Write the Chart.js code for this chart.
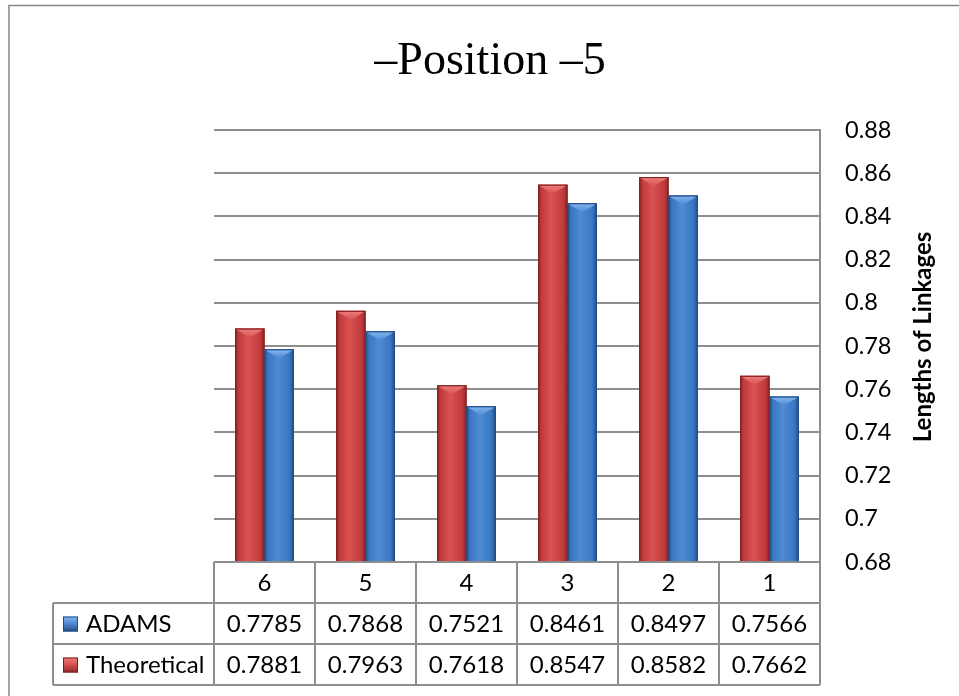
<!DOCTYPE html>
<html>
<head>
<meta charset="utf-8">
<script src="https://cdn.jsdelivr.net/npm/chart.js@4/dist/chart.umd.min.js"></script>
<style>
  html, body { margin: 0; padding: 0; background: #fff; }
  #wrap { width: 959px; height: 696px; position: relative; }
</style>
</head>
<body>
<div id="wrap"><canvas id="c" width="959" height="696"></canvas></div>
<script>
// Link lengths per position (categories run 6 → 1)
const categories = ['6', '5', '4', '3', '2', '1'];
const adams = [0.7785, 0.7868, 0.7521, 0.8461, 0.8497, 0.7566];
const theoretical = [0.7881, 0.7963, 0.7618, 0.8547, 0.8582, 0.7662];
const seriesNames = ['ADAMS', 'Theoretical'];

const chartTitle = '\u2013Position \u20135';
const axisTitle = 'Lengths of Linkages';
const yMin = 0.68, yMax = 0.88, yStep = 0.02;

const LINE = '#8e8e8e';
const FONT = 'Lato, "Open Sans", sans-serif';

const palette = {
  Theoretical: { base: '#c23b3c', dark: '#8f2526', light: '#d95353', bevel: '#ec7f7e', edge: '#7d1f20' },
  ADAMS:       { base: '#3a77c2', dark: '#234f8a', light: '#4f8ad3', bevel: '#86b7ef', edge: '#1f4a82' }
};

// Paint white background, frame and the heading
const framePlugin = {
  id: 'frame',
  beforeDraw(chart) {
    const ctx = chart.ctx;
    ctx.save();
    ctx.fillStyle = '#ffffff';
    ctx.fillRect(0, 0, chart.width, chart.height);
    ctx.strokeStyle = '#878787';
    ctx.lineWidth = 1.5;
    ctx.strokeRect(9, 5.5, chart.width + 20, chart.height + 20);
    ctx.restore();
  },
  afterDraw(chart) {
    const ctx = chart.ctx;
    ctx.save();
    ctx.fillStyle = '#000';
    ctx.font = '46px "Liberation Serif", "Times New Roman", serif';
    ctx.textAlign = 'center';
    ctx.textBaseline = 'alphabetic';
    ctx.fillText(chartTitle, 490, 74);

    // rotated axis title reading bottom-to-top
    ctx.translate(923, 337);
    ctx.rotate(-Math.PI / 2);
    ctx.font = 'bold 24px ' + FONT;
    ctx.textBaseline = 'middle';
    ctx.fillText(axisTitle, 0, 0);
    ctx.restore();
  }
};

// Shading and bevelled tops on every bar element
const bevelPlugin = {
  id: 'bevel',
  afterDatasetsDraw(chart) {
    const ctx = chart.ctx;
    const floor = chart.chartArea.bottom;
    chart.data.datasets.forEach((ds, di) => {
      const col = palette[ds.label];
      chart.getDatasetMeta(di).data.forEach(bar => {
        const p = bar.getProps(['x', 'y', 'width', 'base'], true);
        const x = p.x, y = p.y, width = p.width;
        const base = Math.min(p.base, floor);
        const l = x - width / 2, r = x + width / 2, h = base - y;
        ctx.save();
        // body gradient
        const g = ctx.createLinearGradient(l, 0, r, 0);
        g.addColorStop(0, col.dark);
        g.addColorStop(0.12, col.base);
        g.addColorStop(0.45, col.light);
        g.addColorStop(0.85, col.base);
        g.addColorStop(1, col.dark);
        ctx.fillStyle = g;
        ctx.fillRect(l, y, width, h);
        // bevel top: light wedge pointing down
        const bv = Math.min(9, h / 2);
        const gb = ctx.createLinearGradient(0, y, 0, y + bv);
        gb.addColorStop(0, col.bevel);
        gb.addColorStop(1, col.light);
        ctx.fillStyle = gb;
        ctx.beginPath();
        ctx.moveTo(l + 1, y + 1); ctx.lineTo(r - 1, y + 1); ctx.lineTo(x, y + bv);
        ctx.closePath();
        ctx.fill();
        // outline
        ctx.strokeStyle = col.edge;
        ctx.lineWidth = 1;
        ctx.strokeRect(l + 0.5, y + 0.5, width - 1, h - 1);
        ctx.restore();
      });
    });
  }
};

// Data table under the plot, aligned to the category scale
const tablePlugin = {
  id: 'dataTable',
  afterDraw(chart) {
    const ctx = chart.ctx;
    const xs = chart.scales.x;
    const area = chart.chartArea;
    const step = (area.right - area.left) / categories.length;
    const rowH = 41;
    const top = area.bottom;
    const tableLeft = 53;
    const rows = [
      { name: seriesNames[0], values: adams },
      { name: seriesNames[1], values: theoretical }
    ];
    ctx.save();
    ctx.strokeStyle = LINE;
    ctx.lineWidth = 2;
    ctx.beginPath();
    ctx.moveTo(area.left, top); ctx.lineTo(area.left, top + rowH * 3);
    ctx.moveTo(tableLeft, top + rowH); ctx.lineTo(area.right, top + rowH);
    ctx.moveTo(tableLeft, top + rowH * 2); ctx.lineTo(area.right, top + rowH * 2);
    ctx.moveTo(tableLeft, top + rowH * 3); ctx.lineTo(area.right, top + rowH * 3);
    ctx.moveTo(tableLeft, top + rowH); ctx.lineTo(tableLeft, top + rowH * 3);
    for (let i = 0; i < categories.length; i++) {
      const xr = xs.getPixelForValue(i) + step / 2;
      ctx.moveTo(xr, top); ctx.lineTo(xr, top + rowH * 3);
    }
    ctx.moveTo(area.left, top); ctx.lineTo(area.right, top);
    ctx.stroke();

    ctx.fillStyle = '#000';
    ctx.font = '24px ' + FONT;
    ctx.textBaseline = 'middle';
    ctx.textAlign = 'center';
    categories.forEach((c, i) => {
      ctx.fillText(c, xs.getPixelForValue(i), top + rowH / 2 + 1);
    });
    rows.forEach((row, ri) => {
      const cy = top + rowH * (ri + 1) + rowH / 2 + 1;
      ctx.textAlign = 'center';
      row.values.forEach((v, i) => {
        ctx.fillText(v.toFixed(4), xs.getPixelForValue(i), cy);
      });
      // legend swatch
      const col = palette[row.name];
      const sx = 63, sy = cy - 8, s = 15;
      const sg = ctx.createLinearGradient(0, sy, 0, sy + s);
      sg.addColorStop(0, col.bevel);
      sg.addColorStop(0.45, col.light);
      sg.addColorStop(1, col.dark);
      ctx.fillStyle = sg;
      ctx.fillRect(sx, sy, s, s);
      ctx.strokeStyle = col.edge;
      ctx.lineWidth = 1;
      ctx.strokeRect(sx + 0.5, sy + 0.5, s - 1, s - 1);
      ctx.fillStyle = '#000';
      ctx.textAlign = 'left';
      ctx.fillText(row.name, 86, cy);
    });
    ctx.restore();
  }
};

new Chart(document.getElementById('c'), {
  type: 'bar',
  data: {
    labels: categories,
    datasets: [
      { label: seriesNames[1], data: theoretical, backgroundColor: palette.Theoretical.base, borderWidth: 0 },
      { label: seriesNames[0], data: adams, backgroundColor: palette.ADAMS.base, borderWidth: 0 }
    ]
  },
  options: {
    responsive: false,
    animation: false,
    layout: { padding: { left: 214, right: 0, top: 130, bottom: 134 } },
    datasets: { bar: { categoryPercentage: 0.58, barPercentage: 1.0 } },
    plugins: {
      legend: { display: false },
      title: { display: false },
      tooltip: { enabled: false }
    },
    scales: {
      x: { display: false },
      y: {
        position: 'right',
        min: yMin,
        max: yMax,
        afterFit(scale) { scale.width = 139; },
        ticks: {
          stepSize: yStep,
          padding: 25,
          color: '#000',
          font: { family: FONT, size: 23.5 },
          callback: v => String(Number(v.toFixed(2)))
        },
        grid: { color: LINE, lineWidth: 2, drawTicks: false },
        border: { display: true, color: LINE, width: 2 }
      }
    }
  },
  plugins: [framePlugin, bevelPlugin, tablePlugin]
});
</script>
</body>
</html>
